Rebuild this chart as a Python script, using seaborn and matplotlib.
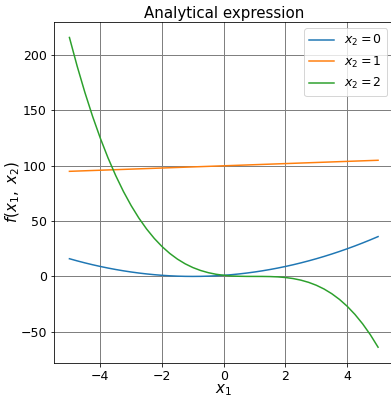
import matplotlib
matplotlib.use("Agg")
import matplotlib.pyplot as plt
import seaborn as sns
import pandas as pd

x1 = [-5, -4.75, -4.5, -4.25, -4, -3.75, -3.5, -3.25, -3, -2.75, -2.5, -2.25, -2,
      -1.75, -1.5, -1.25, -1, -0.75, -0.5, -0.25, 0, 0.25, 0.5, 0.75, 1, 1.25, 1.5,
      1.75, 2, 2.25, 2.5, 2.75, 3, 3.25, 3.5, 3.75, 4, 4.25, 4.5, 4.75, 5]

f_x2_0 = [16, 14.06, 12.25, 10.56, 9, 7.56, 6.25, 5.06, 4, 3.06, 2.25, 1.56, 1,
          0.56, 0.25, 0.06, 0, 0.06, 0.25, 0.56, 1, 1.56, 2.25, 3.06, 4, 5.06, 6.25,
          7.56, 9, 10.56, 12.25, 14.06, 16, 18.06, 20.25, 22.56, 25, 27.56, 30.25, 33.06, 36]

f_x2_1 = [95, 95.25, 95.5, 95.75, 96, 96.25, 96.5, 96.75, 97, 97.25, 97.5, 97.75, 98,
          98.25, 98.5, 98.75, 99, 99.25, 99.5, 99.75, 100, 100.25, 100.5, 100.75, 101,
          101.25, 101.5, 101.75, 102, 102.25, 102.5, 102.75, 103, 103.25, 103.5, 103.75,
          104, 104.25, 104.5, 104.75, 105]

f_x2_2 = [216, 190.11, 166.38, 144.70, 125, 107.17, 91.13, 76.77, 64, 52.73, 42.88,
          34.33, 27, 20.80, 15.63, 11.39, 8, 5.36, 3.38, 1.95, 1, 0.42, 0.13, 0.02, 0,
          -0.02, -0.13, -0.42, -1, -1.95, -3.38, -5.36, -8, -11.39, -15.63, -20.80, -27,
          -34.33, -42.88, -52.73, -64]

series_labels = ["$x_2 = 0$", "$x_2 = 1$", "$x_2 = 2$"]

rows = []
for lab, ys in zip(series_labels, [f_x2_0, f_x2_1, f_x2_2]):
    for xv, yv in zip(x1, ys):
        rows.append({"x1": xv, "f": yv, "series": lab})
df = pd.DataFrame(rows)

FS = 12.5
plt.rcParams["font.size"] = FS
plt.rcParams["font.family"] = ["DejaVu Sans"]

fig = plt.figure(figsize=(391 / 72, 398 / 72), dpi=72)
ax = fig.add_axes([54 / 391, 35.3 / 398, (393.5 - 54) / 391, (362.7 - 22) / 398])

sns.lineplot(data=df, x="x1", y="f", hue="series", hue_order=series_labels,
             palette=["#1f77b4", "#ff7f0e", "#2ca02c"], linewidth=1.5, ax=ax)

ax.grid(True, color="gray", linewidth=1)
ax.set_title("Analytical expression", fontsize=FS * 1.2, pad=4)
ax.set_xlabel("$x_1$", fontsize=FS * 1.2, labelpad=0)
ax.set_ylabel("$f(x_1,\\ x_2)$", fontsize=FS * 1.2, labelpad=-2)
ax.tick_params(labelsize=FS)
ax.set_xticks([-4, -2, 0, 2, 4])
ax.set_yticks([-50, 0, 50, 100, 150, 200])

handles, labels = ax.get_legend_handles_labels()
ax.legend(handles, labels, loc="upper right", fontsize=FS)

fig.savefig("out.png", dpi=72)
